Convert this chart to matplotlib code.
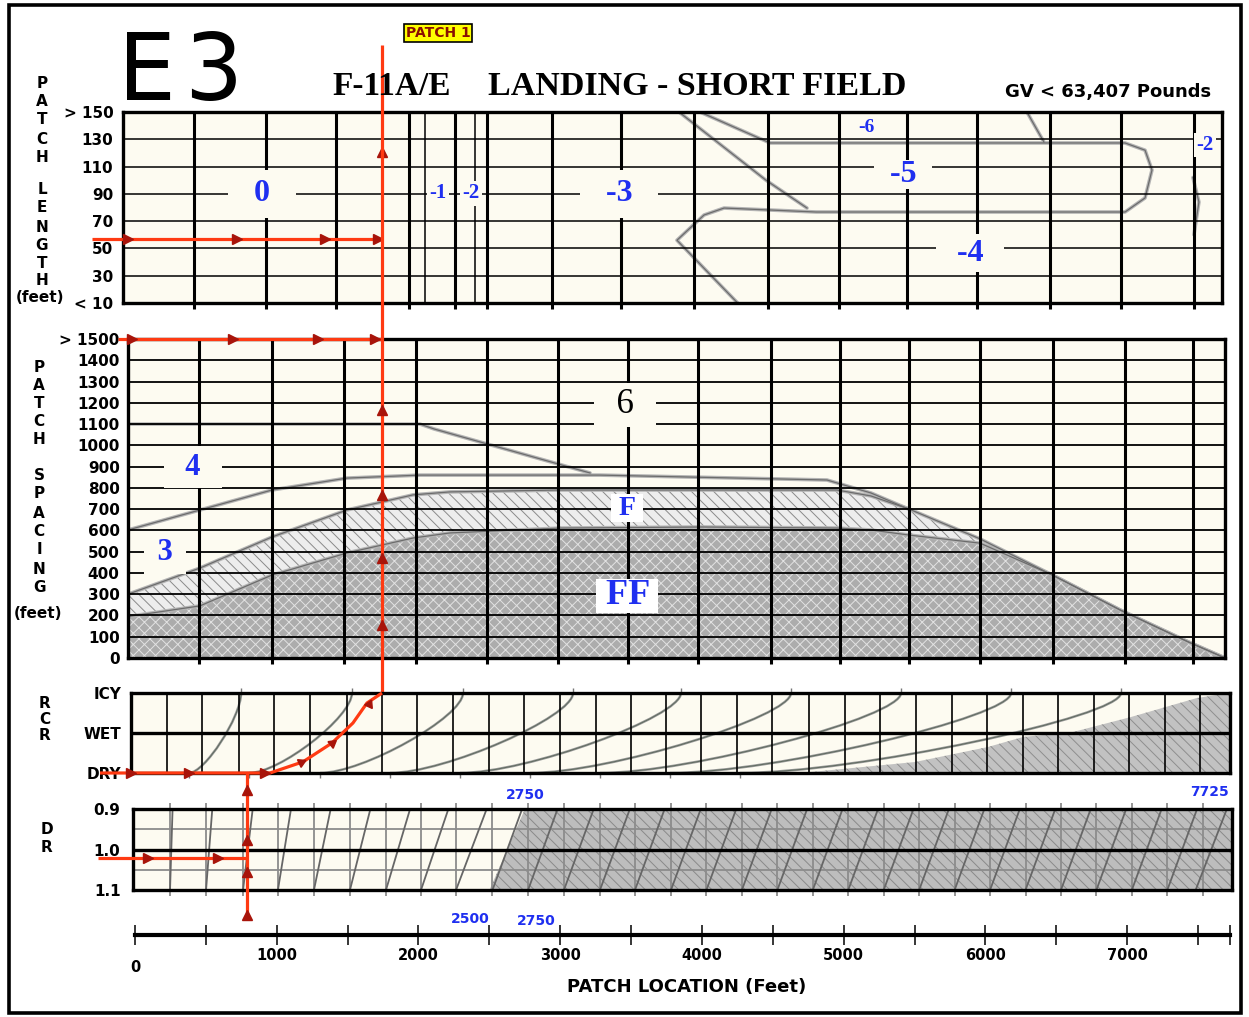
import matplotlib
matplotlib.use("Agg")
import matplotlib.pyplot as plt
from matplotlib.patches import PathPatch, Rectangle
from matplotlib.path import Path

# ---------------- values ----------------
# patch location axis (feet)
loc_ticks = [0, 500, 1000, 1500, 2000, 2500, 3000, 3500, 4000, 4500,
             5000, 5500, 6000, 6500, 7000, 7500]
loc_labels = [1000, 2000, 3000, 4000, 5000, 6000, 7000]
loc_end = 7725

# patch length panel
len_ticks = [10, 30, 50, 70, 90, 110, 130, 150]
len_labels = ["< 10", "30", "50", "70", "90", "110", "130", "> 150"]
len_grid_thick = [416, 924, 1418, 1932, 2257, 2482, 2941, 3427, 3942, 4464,
                  4965, 5444, 5938, 6453, 6953, 7468]
len_grid_thin = [2045, 2398]
len_c1_x = [3836, 4450, 4739]
len_c1_y = [150, 100, 79.6]
len_loop_x = [3984, 4478, 6982, 7123, 7172, 7123, 6982, 4803, 4154, 4013, 3822, 4250]
len_loop_y = [150, 127.3, 127.3, 122, 107.5, 87, 76.7, 76.7, 79.6, 74.5, 56, 10]
len_c3_x = [6290, 6410]
len_c3_y = [150, 128]
len_arc_x = [7461, 7503, 7468]
len_arc_y = [102, 84, 60]
len_zone_text = ["0", "-1", "-2", "-3", "-6", "-5", "-4", "-2"]
len_zone_x = [896, 2137, 2370, 3413, 5155, 5416, 5889, 7546]
len_zone_y = [90, 90.6, 90.6, 90, 139, 104, 46.6, 126]

# patch spacing panel
spc_ticks = [0, 100, 200, 300, 400, 500, 600, 700, 800, 900, 1000,
             1100, 1200, 1300, 1400, 1500]
spc_labels = [str(v) for v in spc_ticks[:-1]] + ["> 1500"]
spc_grid = [451, 966, 1474, 1982, 2482, 2983, 3477, 3970, 4485, 4972,
            5458, 5959, 6474, 6982, 7461]
spc_1100_x = [-49, 2010, 2109, 3209]
spc_1100_y = [1100, 1100, 1077, 870]
spc_c4_x = [-49, 458, 966, 1495, 2010, 3279, 4880, 5190, 5458]
spc_c4_y = [602, 696, 790, 846, 860, 860, 837, 776, 700]
spc_bnd_x = [-49, 458, 966, 1495, 1960, 2220, 3000, 4000, 4950, 5190,
             5460, 5960, 6470, 6950, 7430, 7687]
spc_f_y = [300, 423, 569, 696, 767, 781, 790, 790, 790, 762,
           700, 560, 390, 225, 75, 0]
spc_ff_y = [195, 245, 390, 494, 564, 588, 611, 616, 611, 602,
            578, 540, 390, 225, 75, 0]
spc_zone_text = ["6", "4", "3", "F", "FF"]
spc_zone_x = [3456, 409, 212, 3470, 3470]
spc_zone_y = [1190, 898, 494, 705, 292]

# runway condition panel (0 = DRY, 1 = WET, 2 = ICY)
rcr_names = ["DRY", "WET", "ICY"]
rcr_grid = [226, 476, 731, 980, 1234, 1492, 1740, 1989, 2246, 2495, 2743,
            2997, 3251, 3498, 3745, 3992, 4245, 4492, 4753, 5007, 5254,
            5508, 5762, 6008, 6262, 6509, 6763, 7010, 7264, 7511]
rcr_dry_x = [381, 804, 1305, 1798, 2292, 2786, 3279, 3773, 4267]
rcr_icy_x = [748, 1530, 2313, 3089, 3850, 4626, 5402, 6178, 6953]
rcr_shade_x = [4619, 4767, 5501, 6015, 6262, 6615, 7024, 7489, 7722]
rcr_shade_y = [0, 0.025, 0.275, 0.65, 0.9, 1.025, 1.4, 1.875, 2.0]

# DR panel
dr_ticks = [0.9, 1.0, 1.1]
dr_grid = [247, 501, 762, 1008, 1262, 1516, 1770, 2017, 2264, 2521, 2772,
           3025, 3279, 3526, 3780, 4030, 4280, 4530, 4780, 5030, 5280,
           5530, 5780, 6030, 6280, 6530, 6780, 7030, 7280, 7530]
dr_line_bot = [247, 501, 762, 1008, 1262, 1516, 1770, 2017, 2264, 2521, 2772,
               3025, 3279, 3526, 3780, 4030, 4280, 4530, 4780, 5030, 5280,
               5530, 5780, 6030, 6280, 6530, 6780, 7030, 7280, 7480]
dr_line_top = [265, 545, 830, 1100, 1380, 1660, 1940, 2210, 2480, 2730, 2980,
               3235, 3490, 3735, 3990, 4240, 4490, 4740, 4990, 5240, 5490,
               5740, 5990, 6240, 6490, 6740, 6990, 7240, 7490, 7700]
dr_shade_bot = 2500
dr_shade_top = 2750

# red reading guide
guide_loc = 790
guide_dr = 1.02
guide_x = 1742
guide_len = 57
guide_spc = 1500
guide_rcr_x = [952, 1185, 1389, 1537, 1636, 1742]
guide_rcr_y = [0, 0.28, 0.75, 1.25, 1.75, 2.0]

# ---------------- drawing ----------------
W, H = 1249, 1017
X0, S = 135.0, 0.1418          # feet -> pixel mapping of the location scale
CREAM = "#fdfbf1"
RED = "#ff3a12"
ARROW = "#a8140a"
BLUE = "#1f2ff0"

plt.rcParams["font.family"] = ["DejaVu Sans"]
plt.rcParams["hatch.linewidth"] = 0.7

fig = plt.figure(figsize=(W / 100, H / 100), dpi=100)
fig.patch.set_facecolor("white")


def box(l, t, r, b):
    return [l / W, 1 - b / H, (r - l) / W, (b - t) / H]


def ftext(px, py, s, **kw):
    return fig.text(px / W, 1 - py / H, s, **kw)


def panel(l, t, r, b, ylim):
    ax = fig.add_axes(box(l, t, r, b))
    ax.set_xlim((l - X0) / S, (r - X0) / S)
    ax.set_ylim(*ylim)
    ax.set_facecolor(CREAM)
    ax.set_xticks([])
    for sp in ax.spines.values():
        sp.set_linewidth(2.4)
        sp.set_zorder(7)
    ax.tick_params(axis="y", length=0, labelsize=11)
    return ax


def scan_line(ax, x, y):
    ax.plot(x, y, color="#b4b4b4", lw=2.6, zorder=2, solid_capstyle="round")
    ax.plot(x, y, color="#6c6c6c", lw=0.9, zorder=2.1)


def zone(ax, x, y, s, size, pad, fc=CREAM, color=BLUE, weight="bold"):
    ax.text(x, y, s, fontsize=size, color=color, fontweight=weight,
            family="Liberation Serif", ha="center", va="center", zorder=5,
            bbox=dict(boxstyle="square,pad=%s" % pad, fc=fc, ec="none"))


def bold_ticks(ax):
    for t in ax.get_yticklabels():
        t.set_fontweight("bold")


def y_in(ax_to, ax_from, x, y):
    # y value in ax_to's data units of a point given in ax_from's data units
    disp = ax_from.transData.transform((x, y))
    return ax_to.transData.inverted().transform(disp)[1]


# outer frame
fig.add_artist(Rectangle((9 / W, 1 - 1013 / H), 1232 / W, 1008 / H,
                         transform=fig.transFigure, fill=False, lw=2.6, ec="k"))

# titles
ftext(118, 100, "E", fontsize=66, va="baseline", ha="left")
ftext(184, 100, "3", fontsize=66, va="baseline", ha="left")
ftext(438, 33, "PATCH 1", fontsize=10, fontweight="bold", color="#8a1000",
      ha="center", va="center",
      bbox=dict(boxstyle="square,pad=0.12", fc="#ffff00", ec="k", lw=1.2))
ftext(332, 95, "F-11A/E", fontsize=24, fontweight="bold",
      family="Liberation Serif", ha="left", va="baseline")
ftext(488, 95, "LANDING - SHORT FIELD", fontsize=24.5, fontweight="bold",
      family="Liberation Serif", ha="left", va="baseline")
ftext(1005, 97, "GV < 63,407 Pounds", fontsize=13, fontweight="bold",
      ha="left", va="baseline")

# stacked side captions
for s, py in zip("PATCH", [84, 102, 120, 139, 158]):
    ftext(42, py, s, fontsize=11, fontweight="bold", ha="center", va="center")
for s, py in zip("LENGTH", [190, 208, 227, 245, 263, 281]):
    ftext(42, py, s, fontsize=11, fontweight="bold", ha="center", va="center")
ftext(40, 298, "(feet)", fontsize=11, fontweight="bold", ha="center", va="center")
for s, py in zip("PATCH", [367, 386, 404, 422, 440]):
    ftext(39, py, s, fontsize=11, fontweight="bold", ha="center", va="center")
for s, py in zip("SPACING", [475, 494, 513, 532, 550, 569, 588]):
    ftext(39, py, s, fontsize=11, fontweight="bold", ha="center", va="center")
ftext(38, 614, "(feet)", fontsize=11, fontweight="bold", ha="center", va="center")
for s, py in zip("RCR", [703, 719, 736]):
    ftext(45, py, s, fontsize=11, fontweight="bold", ha="center", va="center")
for s, py in zip("DR", [830, 848]):
    ftext(47, py, s, fontsize=11, fontweight="bold", ha="center", va="center")

# ---- patch length panel ----
ax_len = panel(123, 112, 1222, 303, (10, 150))
ax_len.set_yticks(len_ticks)
ax_len.set_yticklabels(len_labels)
ax_len.tick_params(axis="y", pad=7)
bold_ticks(ax_len)
xl = ax_len.get_xlim()
ax_len.hlines(len_ticks[1:-1], xl[0], xl[1], colors="k", lw=1.1, zorder=3)
ax_len.vlines(len_grid_thick, 5.4, 150, colors="k", lw=2.2, zorder=3, clip_on=False)
ax_len.vlines(len_grid_thin, 10, 150, colors="k", lw=1.1, zorder=3)
for cx, cy in [(len_c1_x, len_c1_y), (len_loop_x, len_loop_y),
               (len_c3_x, len_c3_y), (len_arc_x, len_arc_y)]:
    scan_line(ax_len, cx, cy)
len_style = [(23, "  {}  ", 0.3), (15, "{}", 0.12), (15, "{}", 0.12),
             (23, "  {}  ", 0.3), (14, "{}", 0.1), (23, "  {}  ", 0.0),
             (23, "  {}  ", 0.15), (15, "{}", 0.1)]
for s, x, y, (fs, fmt, pd) in zip(len_zone_text, len_zone_x, len_zone_y, len_style):
    zone(ax_len, x, y, fmt.format(s), fs, pd)

# ---- patch spacing panel ----
ax_spc = panel(128, 339, 1225, 658, (0, 1500))
ax_spc.set_yticks(spc_ticks)
ax_spc.set_yticklabels(spc_labels)
ax_spc.tick_params(axis="y", pad=6)
bold_ticks(ax_spc)
ax_spc.fill_between(spc_bnd_x, spc_ff_y, spc_f_y, facecolor="#ededed",
                    edgecolor="#8a8a8a", hatch="\\" * 3, lw=0, zorder=1)
ax_spc.fill_between(spc_bnd_x, 0, spc_ff_y, facecolor="#acacac",
                    edgecolor="#e2e2e2", hatch="x" * 3, lw=0, zorder=1)
for cx, cy in [(spc_bnd_x, spc_f_y), (spc_bnd_x, spc_ff_y),
               (spc_1100_x, spc_1100_y), (spc_c4_x, spc_c4_y)]:
    scan_line(ax_spc, cx, cy)
xl = ax_spc.get_xlim()
ax_spc.hlines(spc_ticks[1:-1], xl[0], xl[1], colors="k", lw=1.3, zorder=3)
ax_spc.vlines(spc_grid, -28, 1500, colors="k", lw=2.2, zorder=3, clip_on=False)
spc_style = [(25, "  {}  ", 0.15, CREAM, "k", "normal"),
             (22, "  {}  ", 0.2, CREAM, BLUE, "bold"),
             (22, " {} ", 0.2, CREAM, BLUE, "bold"),
             (20, " {} ", 0.05, "white", BLUE, "bold"),
             (26, " {} ", 0.02, "white", BLUE, "bold")]
for s, x, y, (fs, fmt, pd, fc, col, wt) in zip(spc_zone_text, spc_zone_x,
                                               spc_zone_y, spc_style):
    zone(ax_spc, x, y, fmt.format(s), fs, pd, fc=fc, color=col, weight=wt)

# ---- RCR panel ----
ax_rcr = panel(131, 693, 1230, 773, (0, 2))
ax_rcr.set_yticks([0, 1, 2])
ax_rcr.set_yticklabels(rcr_names)
ax_rcr.tick_params(axis="y", pad=7)
bold_ticks(ax_rcr)
ax_rcr.fill_between(rcr_shade_x, 0, rcr_shade_y, facecolor="#c2c2c2",
                    edgecolor="#8e8e8e", hatch="\\" * 3, lw=0, zorder=1)
for x0, x1 in zip(rcr_dry_x, rcr_icy_x):
    d = x1 - x0
    verts = [(x0, 0), (x0 + 0.3 * d, 0), (x1, 1.4), (x1, 2)]
    codes = [Path.MOVETO, Path.CURVE4, Path.CURVE4, Path.CURVE4]
    ax_rcr.add_patch(PathPatch(Path(verts, codes), fc="none", ec="#9a9a9a",
                               lw=1.8, zorder=2))
    ax_rcr.add_patch(PathPatch(Path(verts, codes), fc="none", ec="#5e6a5e",
                               lw=0.7, zorder=2.1))
ax_rcr.vlines(rcr_icy_x, 2, 2.12, colors="#777777", lw=1.0, clip_on=False)
ax_rcr.vlines(rcr_dry_x, -0.12, 0, colors="#777777", lw=1.0, clip_on=False)
ax_rcr.vlines(rcr_grid, 0, 2, colors="k", lw=1.2, zorder=3)
xl = ax_rcr.get_xlim()
ax_rcr.hlines(1, xl[0], xl[1], colors="k", lw=2.4, zorder=3)

# ---- DR panel ----
ax_dr = panel(133, 809, 1232, 890, (1.1, 0.9))
ax_dr.set_yticks(dr_ticks)
ax_dr.set_yticklabels(["0.9", "1.0", "1.1"])
ax_dr.tick_params(axis="y", pad=9)
bold_ticks(ax_dr)
xl = ax_dr.get_xlim()
ax_dr.fill([dr_shade_bot, dr_shade_top, xl[1], xl[1]], [1.1, 0.9, 0.9, 1.1],
           facecolor="#bdbdbd", edgecolor="#8a8a8a", hatch="\\" * 3, lw=0, zorder=1)
ax_dr.hlines([0.95, 1.05], xl[0], xl[1], colors="#8c8c8c", lw=1.3, zorder=2)
ax_dr.vlines(dr_grid, 0.885, 1.115, colors="#8c8c8c", lw=1.3, zorder=2, clip_on=False)
for xb, xt in zip(dr_line_bot, dr_line_top):
    ax_dr.plot([xb, xt], [1.1, 0.9], color="#666666", lw=1.3, zorder=2.2)
ax_dr.hlines(1.0, xl[0], xl[1], colors="k", lw=2.4, zorder=3)
ax_dr.annotate("2750", (dr_shade_top, 0.9), xytext=(-14, 5), textcoords="offset points",
               fontsize=10, fontweight="bold", color=BLUE, ha="left", va="bottom",
               annotation_clip=False)
ax_dr.annotate(str(loc_end), (loc_end, 0.9), xytext=(-1, 7), textcoords="offset points",
               fontsize=10, fontweight="bold", color=BLUE, ha="right", va="bottom",
               annotation_clip=False)
ax_dr.annotate(str(dr_shade_bot), (dr_shade_bot, 1.1), xytext=(0, -16),
               textcoords="offset points", fontsize=10, fontweight="bold",
               color=BLUE, ha="right", va="top", annotation_clip=False)
ax_dr.annotate("2750", (dr_shade_top, 1.1), xytext=(-6, -17),
               textcoords="offset points", fontsize=10, fontweight="bold",
               color=BLUE, ha="left", va="top", annotation_clip=False)

# ---- patch location scale ----
ax_loc = fig.add_axes(box(135, 925, 1230, 945))
ax_loc.set_xlim(0, loc_end)
ax_loc.set_ylim(-1, 1)
ax_loc.axis("off")
ax_loc.plot([0, loc_end], [0, 0], color="k", lw=3.0, clip_on=False)
ax_loc.vlines(loc_ticks + [loc_end], -1, 1, colors="k", lw=1.1, clip_on=False)
for v in loc_labels:
    ax_loc.text(v, -2.0, str(v), fontsize=10.5, fontweight="bold",
                ha="center", va="center", clip_on=False)
ax_loc.text(0, -3.2, "0", fontsize=10.5, fontweight="bold", ha="center", va="center")
ax_loc.text(loc_end / 2 + 30, -5.2, "PATCH LOCATION (Feet)", fontsize=13,
            fontweight="bold", ha="center", va="center")

# ---- red reading guide ----
rk = dict(color=RED, lw=2.3, zorder=8, clip_on=False, solid_capstyle="butt")
ak = dict(color=ARROW, ms=7, lw=0, zorder=9, clip_on=False)
# long vertical from the RCR ICY line up past the length panel
y_low = y_in(ax_spc, ax_rcr, guide_x, 2)
y_high = y_in(ax_spc, ax_len, guide_x, 199)
ax_spc.plot([guide_x, guide_x], [y_low, y_high], **rk)
ax_len.plot([-303, guide_x], [guide_len, guide_len], **rk)
ax_len.plot([-49, 719, 1340, 1714], [guide_len] * 4, marker=">", **ak)
ax_len.plot([guide_x], [121], marker="^", **ak)
ax_spc.plot([-120, guide_x], [guide_spc, guide_spc], **rk)
ax_spc.plot([-21, 691, 1290, 1692], [guide_spc] * 4, marker=">", **ak)
ax_spc.plot([guide_x] * 4, [1166, 766, 470, 155], marker="^", **ak)
ax_rcr.plot([-247] + guide_rcr_x, [0] + guide_rcr_y, **rk)
ax_rcr.plot([-28, 381, 917], [0, 0, 0], marker=">", **ak)
for x, y, a in [(1171, 0.275, -65), (1389, 0.75, -52), (1650, 1.72, -25)]:
    ax_rcr.plot([x], [y], marker=(3, 0, a), **ak)
# vertical at the patch location, from below the DR panel up to DRY
y_dry = y_in(ax_dr, ax_rcr, guide_loc, 0)
ax_dr.plot([guide_loc, guide_loc], [1.17, y_dry], **rk)
ax_dr.plot([-261, guide_loc], [guide_dr, guide_dr], **rk)
ax_dr.plot([92, 585], [guide_dr] * 2, marker=">", **ak)
ax_dr.plot([guide_loc] * 4, [0.853, 0.977, 1.056, 1.162], marker="^", **ak)

fig.savefig("out.png", dpi=100, facecolor="white")
